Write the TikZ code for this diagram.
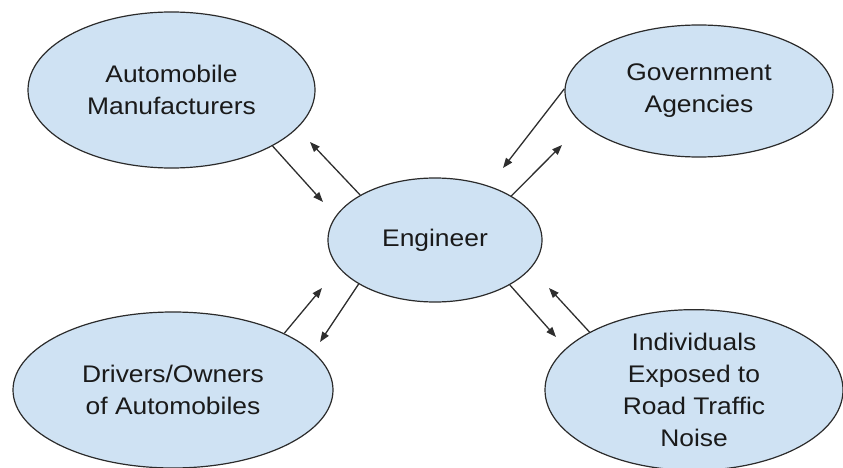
\documentclass[tikz,border=0pt]{standalone}
\usepackage{fontspec}
\setmainfont[FakeStretch=1.1]{Liberation Sans}
\usetikzlibrary{shapes.geometric,arrows.meta}
\definecolor{bubblefill}{HTML}{CFE2F3}
\definecolor{bubbleline}{HTML}{2B2B2B}
\definecolor{inktext}{HTML}{1A1A1A}
\definecolor{flowline}{HTML}{2E2E2E}
\tikzset{
  bubble/.style={ellipse, draw=bubbleline, fill=bubblefill, line width=1.2pt,
    inner sep=0pt, align=center, text=inktext,
    font=\fontsize{24}{32}\selectfont},
  flow/.style={draw=flowline, line width=1.3pt,
    -{Triangle[length=10pt,width=7.5pt]}}
}
\begin{document}
\begin{tikzpicture}[x=1pt,y=-1pt]
  \useasboundingbox (0,0) rectangle (843,468);

  % stakeholders around the engineer
  \node[bubble, minimum width=287pt, minimum height=156pt] (mfr) at (171.5,90) {Automobile\\Manufacturers};
  \node[bubble, minimum width=268pt, minimum height=132pt] (gov) at (699,91) {Government\\Agencies};
  \node[bubble, minimum width=214pt, minimum height=124pt] (eng) at (435,240) {Engineer};
  \node[bubble, minimum width=320pt, minimum height=156pt] (drv) at (173,390) {Drivers/Owners\\of Automobiles};
  \node[bubble, minimum width=298pt, minimum height=156pt] (ind) at (694,390) {Individuals\\Exposed to\\Road Traffic\\Noise};

  % arrow tips
  \coordinate (tA) at (323,202);
  \coordinate (tB) at (310,142);
  \coordinate (tC) at (503,168);
  \coordinate (tD) at (562,145);
  \coordinate (tE) at (322,288);
  \coordinate (tF) at (320,342);
  \coordinate (tG) at (556,337);
  \coordinate (tH) at (549,288);

  % two-way exchanges
  \draw[flow] (mfr.-29.3) -- (tA);
  \draw[flow] (eng.149.9) -- (tB);
  \draw[flow] (gov.179.6) -- (tC);
  \draw[flow] (eng.30) -- (tD);
  \draw[flow] (drv.27.4) -- (tE);
  \draw[flow] (eng.210.6) -- (tF);
  \draw[flow] (eng.329.4) -- (tG);
  \draw[flow] (ind.151.7) -- (tH);
\end{tikzpicture}
\end{document}
